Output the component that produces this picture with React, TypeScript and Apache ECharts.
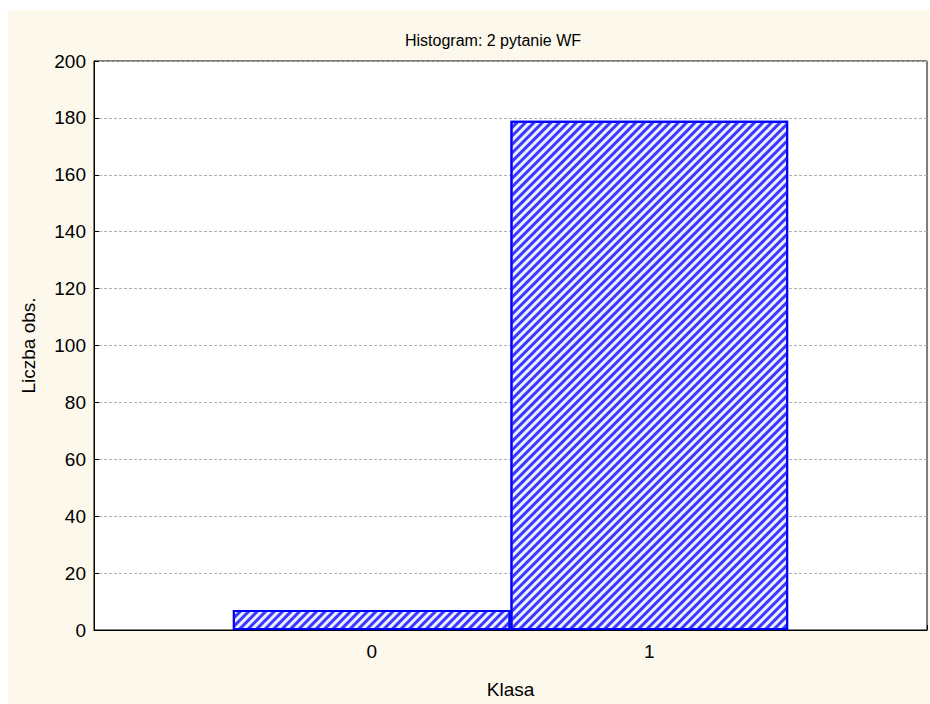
import React, { useEffect, useRef } from "react";
import * as echarts from "echarts";

const titleText = "Histogram: 2 pytanie WF";
const xAxisName = "Klasa";
const yAxisName = "Liczba obs.";
const classes = [0, 1];
const counts = [7, 179];
const xTickLabels: Record<string, string> = { "0": "0", "1": "1" };

const FONT = "'Liberation Sans', Arial, sans-serif";

export default function App() {
  const ref = useRef<HTMLDivElement>(null);
  useEffect(() => {
    if (!ref.current) return;
    const chart = echarts.init(ref.current, undefined, { renderer: "svg" });
    chart.setOption({
      animation: false,
      backgroundColor: "#fdf8ec",
      textStyle: { fontFamily: FONT },
      title: {
        text: titleText,
        left: 480,
        textAlign: "center",
        top: 17,
        textStyle: { fontFamily: FONT, fontSize: 16, fontWeight: "normal", color: "#000" },
      },
      grid: {
        left: 86,
        right: 1,
        top: 51,
        bottom: 72,
        show: true,
        backgroundColor: "#ffffff",
        borderColor: "#000",
        borderWidth: 1,
      },
      xAxis: {
        type: "value",
        min: -1,
        max: 2,
        interval: 1,
        name: xAxisName,
        nameLocation: "middle",
        nameGap: 50,
        nameTextStyle: { fontFamily: FONT, fontSize: 19, color: "#000" },
        axisLine: { show: true, onZero: false, lineStyle: { color: "#000", width: 1 } },
        axisTick: { show: true, inside: true, length: 5, lineStyle: { color: "#000" } },
        axisLabel: {
          fontFamily: FONT,
          fontSize: 19,
          color: "#000",
          margin: 12,
          formatter: (v: number) => xTickLabels[String(v)] ?? "",
        },
        splitLine: { show: false },
      },
      yAxis: {
        type: "value",
        min: 0,
        max: 200,
        interval: 20,
        name: yAxisName,
        nameLocation: "middle",
        nameGap: 56,
        nameRotate: 90,
        nameTextStyle: { fontFamily: FONT, fontSize: 19, color: "#000" },
        axisLine: { show: true, onZero: false, lineStyle: { color: "#000", width: 1 } },
        axisTick: { show: true, inside: true, length: 5, lineStyle: { color: "#000" } },
        axisLabel: { fontFamily: FONT, fontSize: 19, color: "#000", margin: 8 },
        splitLine: { show: true, lineStyle: { color: "#b0b0b0", type: [3, 2], width: 1 } },
      },
      series: [
        {
          type: "bar",
          data: classes.map((c, i) => [c, counts[i]]),
          barWidth: "100%",
          itemStyle: {
            color: "#eeeeff",
            borderColor: "#0000ff",
            borderWidth: 2,
            decal: {
              symbol: "rect",
              symbolSize: 1,
              dashArrayX: [1, 0],
              dashArrayY: [2.2, 2.4],
              rotation: -Math.PI / 4,
              color: "#3a3aff",
            },
          },
          emphasis: { disabled: true },
        },
      ],
    });
    return () => chart.dispose();
  }, []);
  return (
    <div style={{ position: "absolute", left: 8, top: 10, width: 922, height: 694 }}>
      <div ref={ref} style={{ width: 922, height: 694 }} />
    </div>
  );
}
